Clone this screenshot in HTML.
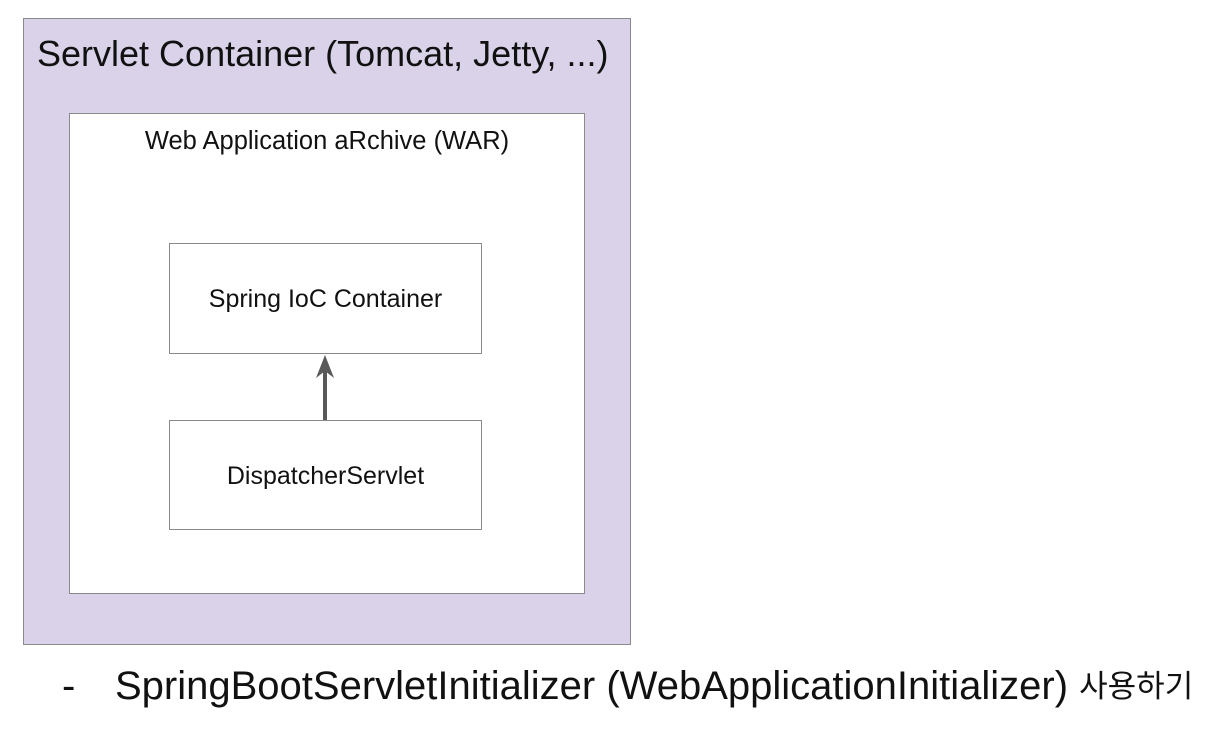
<!DOCTYPE html>
<html><head><meta charset="utf-8"><style>
body{margin:0;width:1232px;height:730px;background:#fff;position:relative;overflow:hidden;font-family:"Liberation Sans","Noto Sans CJK KR",sans-serif;color:#111}
.b{position:absolute;box-sizing:border-box;border:1.5px solid #8a8a8a}
.t{position:absolute;white-space:nowrap;line-height:1}
</style></head><body>
<div class="b" style="left:23px;top:18px;width:608px;height:627px;background:#d9d2e9"></div>
<div class="t" style="left:37px;top:36px;font-size:36px">Servlet Container (Tomcat, Jetty, ...)</div>
<div class="b" style="left:69px;top:113px;width:516px;height:481px;background:#fff"></div>
<div class="t" style="left:69px;width:516px;text-align:center;top:129px;font-size:25.5px">Web Application aRchive (WAR)</div>
<div class="b" style="left:169px;top:243px;width:313px;height:111px;background:#fff"></div>
<div class="t" style="left:169px;width:313px;text-align:center;top:287px;font-size:25px">Spring IoC Container</div>
<div class="b" style="left:169px;top:420px;width:313px;height:110px;background:#fff"></div>
<div class="t" style="left:169px;width:313px;text-align:center;top:464px;font-size:25px">DispatcherServlet</div>
<svg style="position:absolute;left:0;top:0" width="1232" height="730">
<line x1="325" y1="420" x2="325" y2="365" stroke="#595959" stroke-width="4"/>
<polygon points="325,355 316,378 325,371 334,378" fill="#595959"/>
</svg>
<div class="t" style="left:62px;top:666px;font-size:40px">-</div>
<div class="t" style="left:115px;top:666px;font-size:40px">SpringBootServletInitializer (WebApplicationInitializer) <span style="font-size:31px;vertical-align:2px">사용하기</span></div>
</body></html>
